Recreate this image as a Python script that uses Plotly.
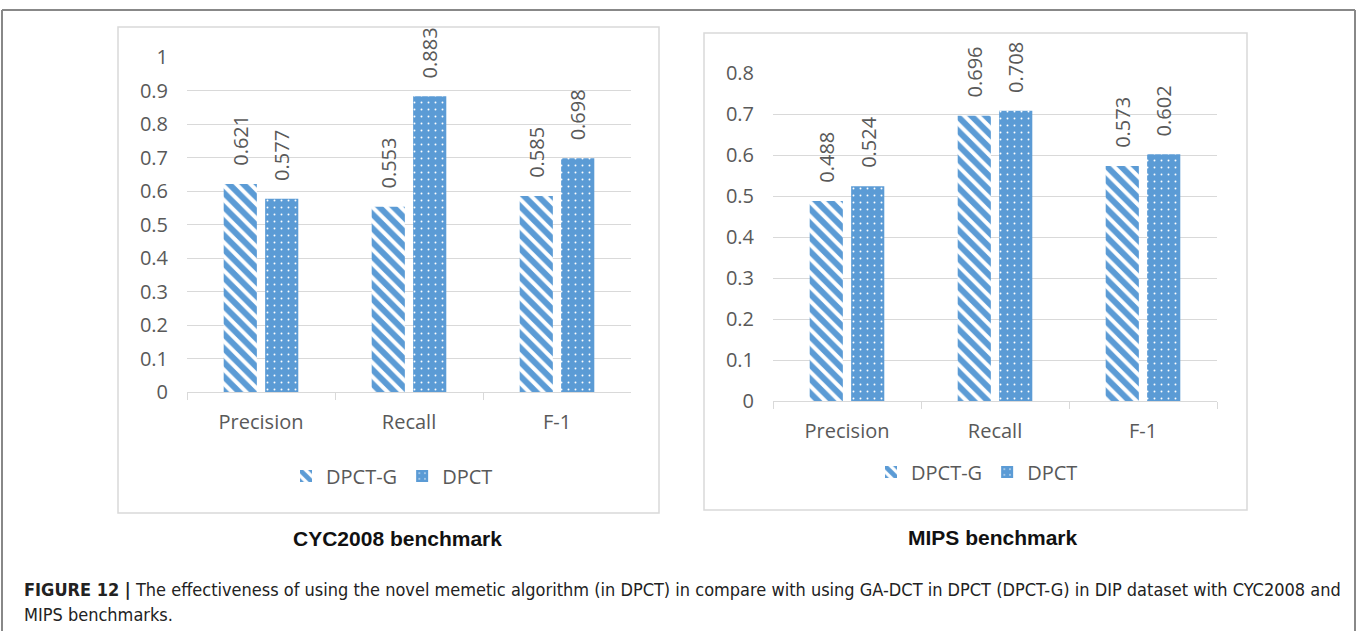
import plotly.graph_objects as go

# ---------------- data ----------------
categories = ["Precision", "Recall", "F-1"]
series_names = ["DPCT-G", "DPCT"]
cyc_dpct_g = [0.621, 0.553, 0.585]
cyc_dpct = [0.577, 0.883, 0.698]
mips_dpct_g = [0.488, 0.696, 0.573]
mips_dpct = [0.524, 0.708, 0.602]
panel_titles = ["CYC2008 benchmark", "MIPS benchmark"]
caption_bold = "FIGURE 12 |"
caption_line1 = (" The effectiveness of using the novel memetic algorithm (in DPCT) in compare "
                 "with using GA-DCT in DPCT (DPCT-G) in DIP dataset with CYC2008 and")
caption_line2 = "MIPS benchmarks."

# ---------------- style ----------------
W, H = 1357, 631
BLUE = "#5B9BD5"
GRID = "#D9D9D9"
TXT = "#595959"
FONT = "Open Sans"
CAPFONT = "DejaVu Sans Condensed, Liberation Sans, Arial"


def px(x):
    return x / W


def py(y):
    return (H - y) / H


stripe = dict(shape="\\", fgcolor=BLUE, bgcolor="white", size=10, solidity=0.6)
dots = dict(shape=".", fgcolor="white", bgcolor=BLUE, size=7, solidity=0.06)

fig = go.Figure()
panels = [
    ("x", "y", "legend", cyc_dpct_g, cyc_dpct),
    ("x2", "y2", "legend2", mips_dpct_g, mips_dpct),
]
for xa, ya, lg, g_vals, d_vals in panels:
    fig.add_trace(go.Bar(x=categories, y=g_vals, name=series_names[0], xaxis=xa, yaxis=ya,
                         legend=lg, marker=dict(color=BLUE, line_width=0, pattern=stripe)))
    fig.add_trace(go.Bar(x=categories, y=d_vals, name=series_names[1], xaxis=xa, yaxis=ya,
                         legend=lg, marker=dict(color=BLUE, line_width=0, pattern=dots)))

tickfont = dict(family=FONT, size=20, color=TXT)
xcommon = dict(showline=True, linecolor=GRID, linewidth=1, ticks="outside", tickson="boundaries",
               ticklen=7, tickcolor=GRID, showgrid=False, tickfont=tickfont, ticklabelstandoff=12,
               fixedrange=True, automargin=False)
ycommon = dict(dtick=0.1, gridcolor=GRID, gridwidth=1, showline=False, zeroline=False, ticks="",
               tickfont=tickfont, ticklabelstandoff=18, fixedrange=True, automargin=False)

annotations = []
for xa, ya, lg, g_vals, d_vals in panels:
    for vals, shift in ((g_vals, -20.7), (d_vals, 20.7)):
        for c, v in zip(categories, vals):
            annotations.append(dict(x=c, y=v, xref=xa, yref=ya, text=f"{v:.3f}", showarrow=False,
                                    textangle=-90, xshift=shift, yshift=16, yanchor="bottom",
                                    xanchor="center", font=dict(family=FONT, size=20, color=TXT)))

annotations += [
    dict(x=px(397), y=py(538), xref="paper", yref="paper", xanchor="center", yanchor="middle",
         text=f"<b>{panel_titles[0]}</b>", showarrow=False,
         font=dict(family="Liberation Sans, Arial", size=21, color="#111")),
    dict(x=px(993), y=py(537), xref="paper", yref="paper", xanchor="center", yanchor="middle",
         text=f"<b>{panel_titles[1]}</b>", showarrow=False,
         font=dict(family="Liberation Sans, Arial", size=21, color="#111")),
    dict(x=px(22), y=py(589), xref="paper", yref="paper", xanchor="left", yanchor="middle",
         text=f"<b>{caption_bold}</b>{caption_line1}", showarrow=False,
         font=dict(family=CAPFONT, size=18, color="#222")),
    dict(x=px(22), y=py(614), xref="paper", yref="paper", xanchor="left", yanchor="middle",
         text=caption_line2, showarrow=False,
         font=dict(family=CAPFONT, size=18, color="#222")),
]

shapes = [
    dict(type="rect", xref="paper", yref="paper", x0=px(118), x1=px(659), y0=py(513), y1=py(27),
         line=dict(color=GRID, width=1.5)),
    dict(type="rect", xref="paper", yref="paper", x0=px(704), x1=px(1247), y0=py(510), y1=py(33),
         line=dict(color=GRID, width=1.5)),
    dict(type="line", xref="paper", yref="paper", x0=px(2), x1=px(1355), y0=py(10), y1=py(10),
         line=dict(color="#888", width=2)),
    dict(type="line", xref="paper", yref="paper", x0=px(2), x1=px(2), y0=py(10), y1=py(640),
         line=dict(color="#888", width=2)),
    dict(type="line", xref="paper", yref="paper", x0=px(1355), x1=px(1355), y0=py(10), y1=py(640),
         line=dict(color="#888", width=2)),
]

legfont = dict(family=FONT, size=20, color=TXT)
fig.update_layout(
    template="none",
    width=W, height=H, margin=dict(l=0, r=0, t=0, b=0, autoexpand=False),
    paper_bgcolor="white", plot_bgcolor="white",
    barmode="group", bargap=0.44, bargroupgap=0.2,
    xaxis=dict(domain=[px(187), px(631)], anchor="y", **xcommon),
    yaxis=dict(domain=[py(392), py(57)], range=[0, 1], anchor="x", **ycommon),
    xaxis2=dict(domain=[px(773), px(1217)], anchor="y2", **xcommon),
    yaxis2=dict(domain=[py(401), py(73)], range=[0, 0.8], anchor="x2", **ycommon),
    legend=dict(orientation="h", x=px(392), xanchor="center", y=py(476), yanchor="middle",
                font=legfont, bgcolor="rgba(0,0,0,0)", itemwidth=30),
    legend2=dict(orientation="h", x=px(977), xanchor="center", y=py(472), yanchor="middle",
                 font=legfont, bgcolor="rgba(0,0,0,0)", itemwidth=30),
    annotations=annotations,
    shapes=shapes,
    showlegend=True,
)

fig.write_html("out.html")
